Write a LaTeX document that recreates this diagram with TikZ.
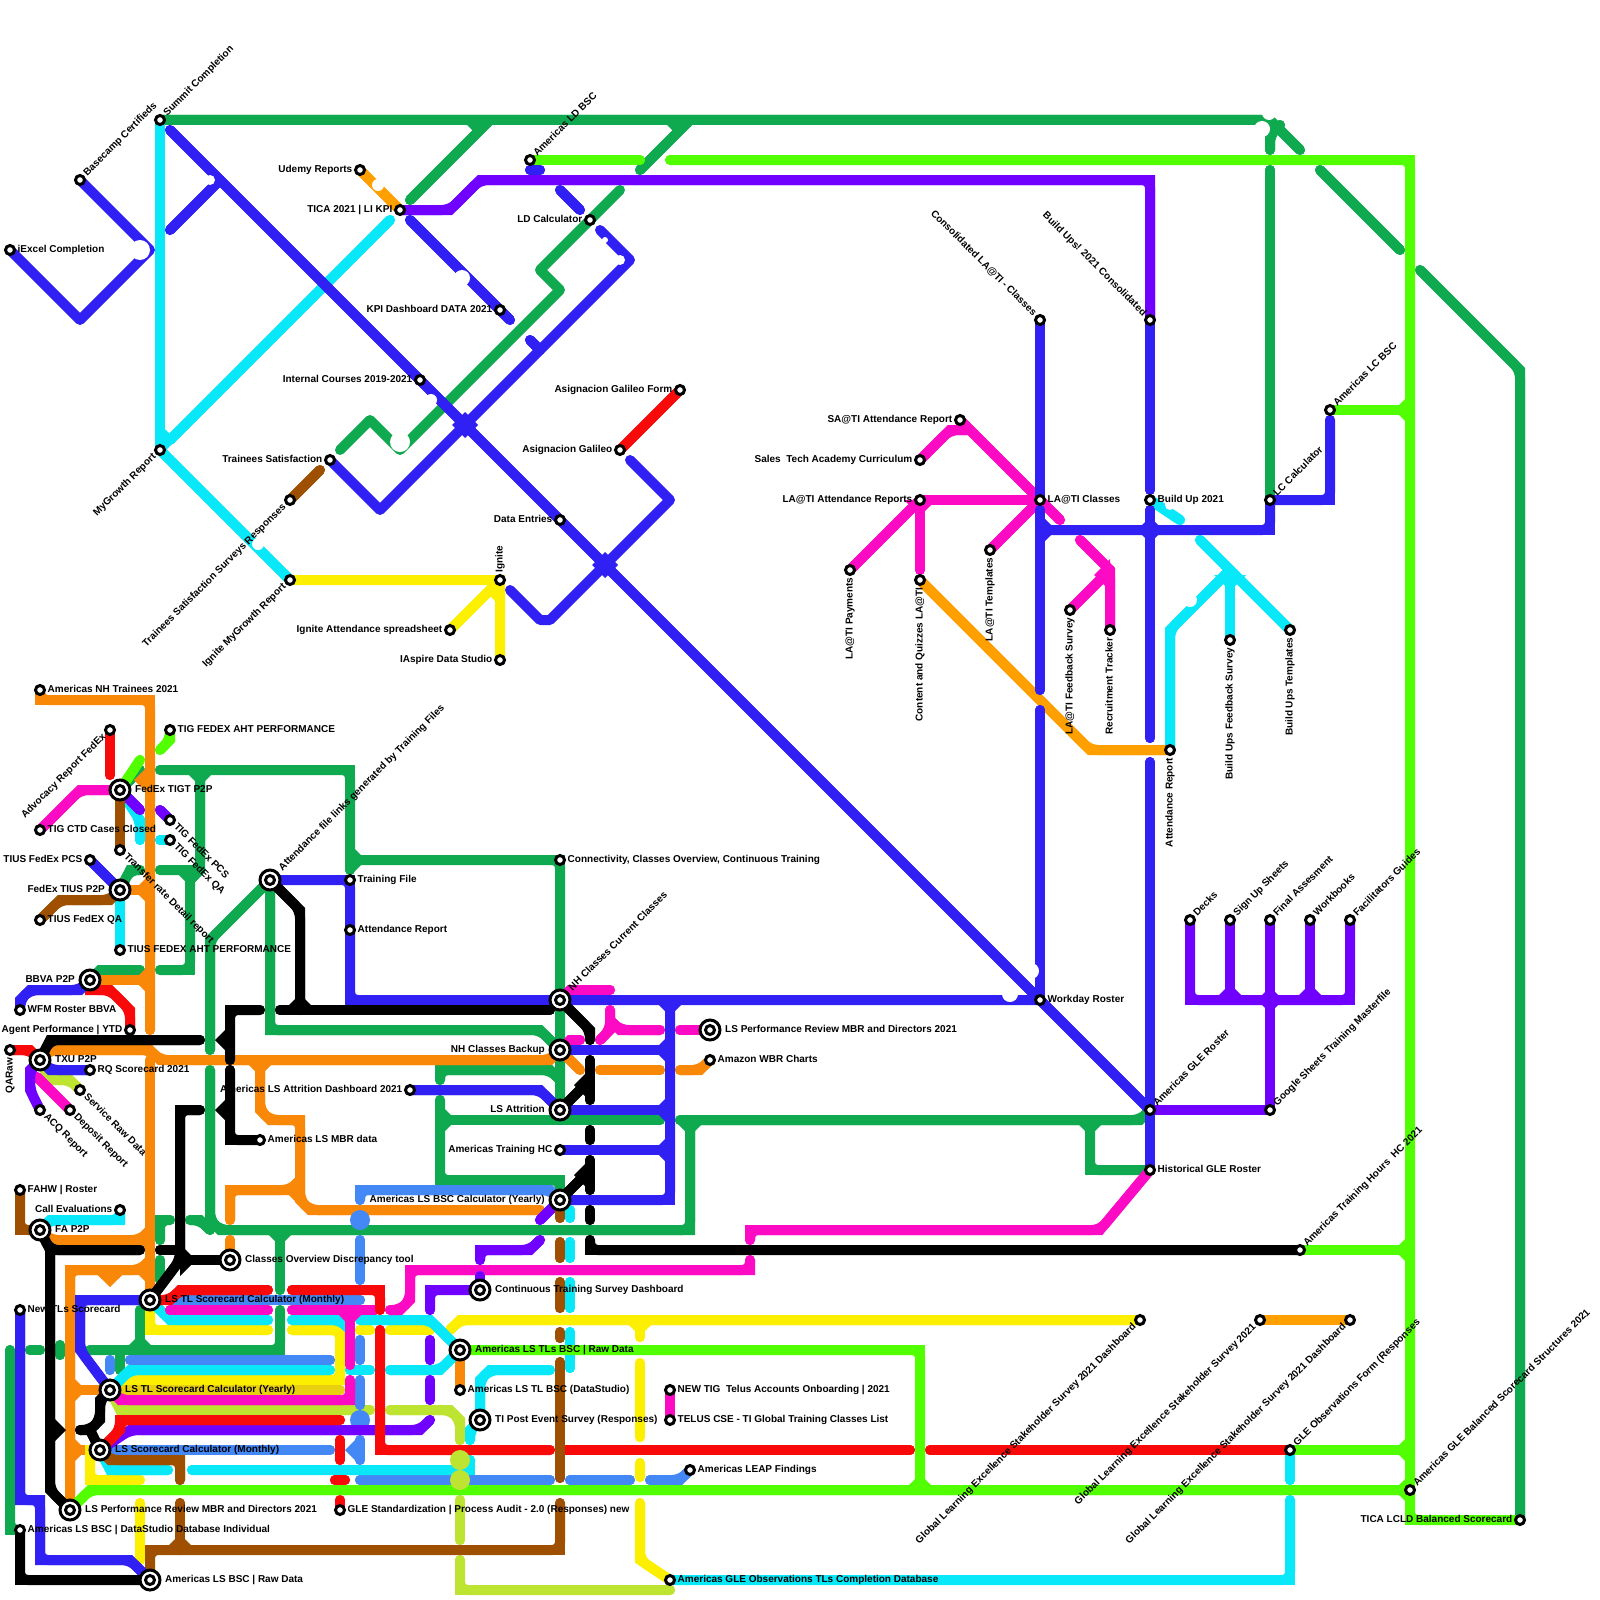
\documentclass[tikz,border=0pt]{standalone}
\usepackage{fontspec}
\setmainfont{Liberation Sans}
\pgfdeclarelayer{lines}
\pgfsetlayers{lines,main}
\definecolor{cB}{HTML}{3120F4}\definecolor{cG}{HTML}{0FA950}\definecolor{cL}{HTML}{52FF00}
\definecolor{cC}{HTML}{08E8F8}\definecolor{cM}{HTML}{FC0AC4}\definecolor{cO}{HTML}{F98808}
\definecolor{cA}{HTML}{FF9F00}\definecolor{cP}{HTML}{7000FF}\definecolor{cN}{HTML}{9E5000}
\definecolor{cR}{HTML}{F90A0A}\definecolor{cY}{HTML}{FCF000}\definecolor{cS}{HTML}{4488F5}
\definecolor{cV}{HTML}{BDE430}\definecolor{cD}{HTML}{E8CF10}\definecolor{cK}{HTML}{000000}
\tikzset{
 ln/.style={line width=10pt,line cap=round,line join=miter},
 smst/.style={circle,draw=black,fill=white,line width=3pt,minimum size=9pt,inner sep=0pt},
 bigst/.style={circle,draw=black,fill=white,line width=3pt,minimum size=20pt,inner sep=0pt},
 lbl/.style={font=\bfseries\fontsize{10}{12}\selectfont,text=black,text height=7.2pt,text depth=2pt},
 pE/.style={anchor=west},pW/.style={anchor=east},
 pNE/.style={anchor=west,rotate=45},pSW/.style={anchor=east,rotate=45},
 pSE/.style={anchor=west,rotate=-45},pNW/.style={anchor=east,rotate=-45},
 pS/.style={anchor=east,rotate=90},pN/.style={anchor=west,rotate=90},
}
\newcommand\sta[5]{\node[smst] (#1) at (#2,#3) {};\node[lbl,inner sep=7.5pt,#4] (#1-l) at (#2,#3) {#5};}
\newcommand\maj[5]{\node[bigst] (#1) at (#2,#3) {};\node[smst] (#1-i) at (#2,#3) {};\node[lbl,inner sep=15pt,#4] (#1-l) at (#2,#3) {#5};}
\newcommand\ml[2]{\draw[ln,#1] #2;\draw[ln,#1,rounded corners=8pt] #2;}
\newcommand\mv[2]{\draw[ln,line join=round,#1] #2;}
\newcommand\fl[5]{\fill[#1] ({#2+16*(#5)},{#3+16*(#4)}) -- ({#2-16*(#5)},{#3-16*(#4)}) -- ({#2+16*(#4)},{#3+16*(#5)}) -- cycle;}
\newcommand\hub[3]{\fill[#1] (#2-13,#3) -- (#2,#3-13) -- (#2+13,#3) -- (#2,#3+13) -- cycle;}
\newcommand\nt[3]{\fill[white] (#1,#2) circle (#3);}
\begin{document}
\begin{tikzpicture}[x=1pt,y=-1pt]
\useasboundingbox (0,0) rectangle (1600,1600);
% stations
\sta{iexcel}{10}{250}{pE}{iExcel Completion}
\sta{basecamp}{80}{180}{pNE}{Basecamp Certifieds}
\sta{summit}{160}{120}{pNE}{Summit Completion}
\sta{udemy}{360}{170}{pW}{Udemy Reports}
\sta{tica}{400}{210}{pW}{TICA 2021 | LI KPI}
\sta{kpi}{500}{310}{pW}{KPI Dashboard DATA 2021}
\sta{amld}{530}{160}{pNE}{Americas LD BSC}
\sta{ldcalc}{590}{220}{pW}{LD Calculator}
\sta{intc}{420}{380}{pW}{Internal Courses 2019-2021}
\sta{mygrowth}{160}{450}{pSW}{MyGrowth Report}
\sta{trsat}{330}{460}{pW}{Trainees Satisfaction}
\sta{tssr}{290}{500}{pSW}{Trainees Satisfaction Surveys Responses}
\sta{agf}{680}{390}{pW}{Asignacion Galileo Form}
\sta{ag}{620}{450}{pW}{Asignacion Galileo}
\sta{de}{560}{520}{pW}{Data Entries}
\sta{ign}{500}{580}{pN}{Ignite}
\sta{igmg}{290}{580}{pSW}{Ignite MyGrowth Report}
\sta{igatt}{450}{630}{pW}{Ignite Attendance spreadsheet}
\sta{iasp}{500}{660}{pW}{IAspire Data Studio}
\sta{consol}{1040}{320}{pNW}{Consolidated LA@TI - Classes}
\sta{bu}{1150}{320}{pNW}{Build Ups! 2021 Consolidated}
\sta{sa}{960}{420}{pW}{SA@TI Attendance Report}
\sta{sales}{920}{460}{pW}{Sales\ \ Tech Academy Curriculum}
\sta{laatt}{920}{500}{pW}{LA@TI Attendance Reports}
\sta{lacl}{1040}{500}{pE}{LA@TI Classes}
\sta{buone}{1150}{500}{pE}{Build Up 2021}
\sta{lc}{1270}{500}{pNE}{LC Calculator}
\sta{amlc}{1330}{410}{pNE}{Americas LC BSC}
\sta{lapay}{850}{570}{pS}{LA@TI Payments}
\sta{cq}{920}{580}{pS}{Content and Quizzes LA@TI}
\sta{latem}{990}{550}{pS}{LA@TI Templates}
\sta{lafb}{1070}{610}{pS}{LA@TI Feedback Survey}
\sta{rec}{1110}{630}{pS}{Recruitment Tracker}
\sta{attr}{1170}{750}{pS}{Attendance Report}
\sta{bufb}{1230}{640}{pS}{Build Ups Feedback Survey}
\sta{butm}{1290}{630}{pS}{Build Ups Templates}
\sta{decks}{1190}{920}{pNE}{Decks}
\sta{signup}{1230}{920}{pNE}{Sign Up Sheets}
\sta{final}{1270}{920}{pNE}{Final Assesment}
\sta{workb}{1310}{920}{pNE}{Workbooks}
\sta{facil}{1350}{920}{pNE}{Facilitators Guides}
\sta{google}{1270}{1110}{pNE}{Google Sheets Training Masterfile}
\sta{amgle}{1150}{1110}{pNE}{Americas GLE Roster}
\sta{workday}{1040}{1000}{pE}{Workday Roster}
\sta{hist}{1150}{1170}{pE}{Historical GLE Roster}
\sta{athh}{1300}{1250}{pNE}{Americas Training Hours\ \ HC 2021}
\sta{glsa}{1140}{1320}{pSW}{Global Learning Excellence Stakeholder Survey 2021 Dashboard}
\sta{glsb}{1260}{1320}{pSW}{Global Learning Excellence Stakeholder Survey 2021}
\sta{glsc}{1350}{1320}{pSW}{Global Learning Excellence Stakeholder Survey 2021 Dashboard}
\sta{gleo}{1290}{1450}{pNE}{GLE Observations Form (Responses}
\sta{glebal}{1410}{1490}{pNE}{Americas GLE Balanced Scorecard Structures 2021}
\sta{ticalc}{1520}{1520}{pW}{TICA LCLD Balanced Scorecard}
\sta{amglo}{670}{1580}{pE}{Americas GLE Observations TLs Completion Database}
\sta{leap}{690}{1470}{pE}{Americas LEAP Findings}
\sta{telus}{670}{1420}{pE}{TELUS CSE - TI Global Training Classes List}
\sta{newtig}{670}{1390}{pE}{NEW TIG\ \ Telus Accounts Onboarding | 2021}
\sta{wbr}{710}{1060}{pE}{Amazon WBR Charts}
\maj{lsperfb}{710}{1030}{pE}{LS Performance Review MBR and Directors 2021}
\sta{conn}{560}{860}{pE}{Connectivity, Classes Overview, Continuous Training}
\maj{nhcur}{560}{1000}{pNE}{NH Classes Current Classes}
\maj{nhb}{560}{1050}{pW}{NH Classes Backup}
\maj{lsatt}{560}{1110}{pW}{LS Attrition}
\sta{hc}{560}{1150}{pW}{Americas Training HC}
\maj{calc}{560}{1200}{pW}{Americas LS BSC Calculator (Yearly)}
\sta{dash}{410}{1090}{pW}{Americas LS Attrition Dashboard 2021}
\sta{mbr}{260}{1140}{pE}{Americas LS MBR data}
\sta{tf}{350}{880}{pE}{Training File}
\sta{arb}{350}{930}{pE}{Attendance Report}
\maj{afl}{270}{880}{pNE}{Attendance file links generated by Training Files}
\maj{cods}{230}{1260}{pE}{Classes Overview Discrepancy tool}
\maj{lstm}{150}{1300}{pE}{LS TL Scorecard Calculator (Monthly)}
\maj{cts}{480}{1290}{pE}{Continuous Training Survey Dashboard}
\maj{lsr}{460}{1350}{pE}{Americas LS TLs BSC | Raw Data}
\sta{dstud}{460}{1390}{pE}{Americas LS TL BSC (DataStudio)}
\maj{tipe}{480}{1420}{pE}{TI Post Event Survey (Responses)}
\sta{gles}{340}{1510}{pE}{GLE Standardization | Process Audit - 2.0 (Responses) new}
\maj{lsty}{110}{1390}{pE}{LS TL Scorecard Calculator (Yearly)}
\maj{lssm}{100}{1450}{pE}{LS Scorecard Calculator (Monthly)}
\maj{lspr}{70}{1510}{pE}{LS Performance Review MBR and Directors 2021}
\sta{bscd}{20}{1530}{pE}{Americas LS BSC | DataStudio Database Individual}
\maj{bscr}{150}{1580}{pE}{Americas LS BSC | Raw Data}
\sta{newtl}{20}{1310}{pE}{New TLs Scorecard}
\sta{fahw}{20}{1190}{pE}{FAHW | Roster}
\sta{call}{120}{1210}{pW}{Call Evaluations}
\maj{fa}{40}{1230}{pE}{FA P2P}
\maj{txu}{40}{1060}{pE}{TXU P2P}
\sta{qar}{10}{1050}{pS}{QARaw}
\sta{rq}{90}{1070}{pE}{RQ Scorecard 2021}
\sta{srv}{80}{1090}{pSE}{Service Raw Data}
\sta{dep}{70}{1110}{pSE}{Deposit Report}
\sta{acq}{40}{1110}{pSE}{ACQ Report}
\sta{agent}{130}{1030}{pW}{Agent Performance | YTD}
\sta{wfm}{20}{1010}{pE}{WFM Roster BBVA}
\maj{bbva}{90}{980}{pW}{BBVA P2P}
\sta{tiusa}{120}{950}{pE}{TIUS FEDEX AHT PERFORMANCE}
\sta{tiusq}{40}{920}{pE}{TIUS FedEX QA}
\maj{tius}{120}{890}{pW}{FedEx TIUS P2P}
\sta{tiusp}{90}{860}{pW}{TIUS FedEx PCS}
\sta{trans}{120}{850}{pSE}{Transfer rate Detail report}
\sta{qa}{170}{840}{pSE}{TIG FedEx QA}
\sta{pcs}{170}{820}{pSE}{TIG FedEx PCS}
\sta{ctd}{40}{830}{pE}{TIG CTD Cases Closed}
\maj{tigt}{120}{790}{pE}{FedEx TIGT P2P}
\sta{adv}{110}{730}{pSW}{Advocacy Report FedEx}
\sta{aht}{170}{730}{pE}{TIG FEDEX AHT PERFORMANCE}
\sta{nht}{40}{690}{pE}{Americas NH Trainees 2021}
\begin{pgfonlayer}{lines}
\fill[white] (0,0) rectangle (1600,1600);
% limey
\ml{cV}{(txu.center) -- (50,1080) -- (70,1080) -- (srv.center)}
\ml{cV}{(lsty.center) -- (120,1410) -- (370,1410)}
\ml{cV}{(390,1410) -- (450,1410) -- (460,1420) -- (460,1440)}
\ml{cV}{(460,1500) -- (460,1540)}
\ml{cV}{(460,1560) -- (460,1590) -- (670,1590)}
% green
\ml{cG}{(summit.center) -- (1270,120) -- (1300,150)}
\ml{cG}{(410,200) -- (490,120)}\fl{cG}{478}{120}{0}{1}
\ml{cG}{(640,170) -- (690,120)}\fl{cG}{678}{120}{0}{1}
\mv{cG}{(620,190) -- (540,270) -- (560,290) -- (400,450) -- (370,420) -- (340,450)}
\ml{cG}{(1320,170) -- (1400,250)}
\ml{cG}{(1420,270) -- (1520,370) -- (ticalc.center)}
\ml{cG}{(1270,170) -- (lc.center)}
\ml{cG}{(1270,150) -- (1270,135) -- (1280,125)}
\ml{cG}{(160,770) -- (350,770) -- (350,870)}\fl{cG}{200}{770}{0}{1}
\ml{cG}{(200,770) -- (200,870) -- (190,880)}
\ml{cG}{(350,860) -- (conn.center) -- (lsatt.center)}\fl{cG}{350}{860}{1}{0}
\ml{cG}{(160,870) -- (190,870) -- (190,970) -- (160,970)}\fl{cG}{190}{870}{0}{1}
\ml{cG}{(tius.center) -- (130,870) -- (140,870)}
\ml{cG}{(tigt.center) -- (140,770)}
\ml{cG}{(bbva.center) -- (100,970) -- (140,970)}
\ml{cG}{(210,1050) -- (210,940) -- (afl.center)}
\ml{cG}{(afl.center) -- (270,1030) -- (540,1030) -- (nhb.center)}
\ml{cG}{(210,1070) -- (210,1220) -- (220,1230) -- (690,1230) -- (690,1120)}
\ml{cG}{(190,1220) -- (200,1220) -- (210,1230)}
\ml{cG}{(680,1120) -- (1140,1120) -- (amgle.center)}\fl{cG}{690}{1120}{0}{1}
\ml{cG}{(1090,1120) -- (1090,1170) -- (hist.center)}\fl{cG}{1090}{1120}{0}{1}
\ml{cG}{(280,1240) -- (280,1290)}\fl{cG}{280}{1230}{0}{1}
\ml{cG}{(280,1310) -- (280,1350) -- (90,1350)}
\ml{cG}{(120,1350) -- (120,1370)}
\ml{cG}{(140,1310) -- (140,1350)}\fl{cG}{140}{1350}{0}{-1}
\ml{cG}{(160,1240) -- (160,1220) -- (170,1220)}
\ml{cG}{(160,1260) -- (160,1280)}
\ml{cG}{(10,1350) -- (10,1530) -- (bscd.center)}
\ml{cG}{(30,1350) -- (40,1350)}
\ml{cG}{(60,1345) -- (60,1355)}
\ml{cG}{(440,1080) -- (440,1070) -- (550,1070) -- (560,1080)}
\ml{cG}{(440,1100) -- (440,1180) -- (560,1180) -- (calc.center)}
\ml{cG}{(440,1120) -- (660,1120)}\fl{cG}{440}{1120}{1}{0}
% orange
\ml{cO}{(nht.center) -- (40,700) -- (150,700) -- (150,1030)}
\fl{cO}{150}{780}{-1}{0}\fl{cO}{150}{890}{-1}{0}\fl{cO}{150}{980}{-1}{0}
\ml{cO}{(tius.center) -- (150,890)}
\ml{cO}{(bbva.center) -- (150,980)}
\ml{cO}{(txu.center) -- (50,1050) -- (150,1050) -- (160,1060) -- (550,1060) -- (nhb.center)}
\ml{cO}{(nhb.center) -- (580,1070)}
\ml{cO}{(600,1070) -- (660,1070)}
\ml{cO}{(680,1070) -- (700,1070) -- (wbr.center)}
\ml{cO}{(150,1060) -- (lstm.center)}
\ml{cO}{(fa.center) -- (50,1240) -- (140,1240) -- (150,1230)}\fl{cO}{150}{1240}{-1}{0}
\ml{cO}{(150,1260) -- (140,1270) -- (70,1270) -- (lspr.center)}\fl{cO}{150}{1270}{-1}{0}
\ml{cO}{(100,1270) -- (110,1280) -- (120,1270)}
\ml{cO}{(70,1390) -- (lsty.center)}\fl{cO}{70}{1390}{1}{0}
\ml{cO}{(70,1450) -- (lssm.center)}\fl{cO}{70}{1450}{1}{0}
\ml{cO}{(260,1060) -- (260,1110) -- (270,1120) -- (300,1120) -- (300,1200) -- (310,1210) -- (540,1210)}\fl{cO}{260}{1060}{0}{1}
\ml{cO}{(300,1180) -- (290,1190) -- (230,1190) -- (230,1220)}\fl{cO}{300}{1190}{-1}{0}
\ml{cO}{(230,1240) -- (cods.center)}
\ml{cO}{(lsr.center) -- (dstud.center)}
% amber
\ml{cA}{(udemy.center) -- (tica.center)}
\ml{cA}{(glsb.center) -- (glsc.center)}
% light blue
\ml{cS}{(360,1200) -- (360,1190) -- (550,1190) -- (calc.center)}
\fill[cS] (360,1220) circle (10);
\ml{cS}{(360,1240) -- (360,1280)}
\ml{cS}{(lstm.center) -- (360,1300)}
\ml{cS}{(360,1340) -- (360,1360)}
\ml{cS}{(360,1380) -- (360,1405)}
\fill[cS] (360,1420) circle (10);
\fill[cS] (345,1450) -- (360,1435) -- (360,1465) -- cycle;
\ml{cS}{(360,1440) -- (360,1460)}
\ml{cS}{(lssm.center) -- (330,1450)}
\ml{cS}{(360,1480) -- (550,1480)}
\ml{cS}{(570,1480) -- (630,1480)}
\ml{cS}{(650,1480) -- (680,1480) -- (leap.center)}
\ml{cS}{(130,1360) -- (330,1360)}
\ml{cS}{(110,1360) -- (110,1370)}
% yellow
\ml{cY}{(igmg.center) -- (ign.center) -- (iasp.center)}
\ml{cY}{(igatt.center) -- (ign.center)}\fl{cY}{500}{590}{-1}{0}
\ml{cY}{(lstm.center) -- (150,1330) -- (268,1330)}
\ml{cY}{(292,1330) -- (340,1330) -- (340,1380) -- (130,1380) -- (lsty.center)}
\ml{cD}{(lsty.center) -- (340,1390)}
\ml{cY}{(360,1330) -- (370,1330)}
\ml{cY}{(390,1330) -- (430,1330)}
\ml{cY}{(450,1330) -- (460,1320) -- (glsa.center)}
\ml{cY}{(640,1320) -- (640,1337)}\fl{cY}{640}{1320}{0}{1}
\ml{cY}{(640,1363) -- (640,1437)}
\ml{cY}{(640,1463) -- (640,1477)}
\ml{cY}{(640,1503) -- (640,1560) -- (amglo.center)}
\ml{cY}{(lssm.center) -- (90,1450) -- (90,1480) -- (140,1480)}
\ml{cY}{(140,1503) -- (140,1560)}
% cyan
\ml{cC}{(summit.center) -- (mygrowth.center)}
\ml{cC}{(390,220) -- (170,440)}\fl{cC}{160}{440}{1}{0}
\ml{cC}{(mygrowth.center) -- (igmg.center)}
\ml{cC}{(buone.center) -- (1180,520)}
\ml{cC}{(1200,540) -- (butm.center)}
\ml{cC}{(1230,570) -- (1170,630) -- (attr.center)}
\ml{cC}{(1230,570) -- (bufb.center)}\fl{cC}{1230}{575}{0}{1}
\ml{cC}{(gleo.center) -- (1290,1480)}
\ml{cC}{(1290,1500) -- (1290,1580) -- (amglo.center)}
\ml{cC}{(tigt.center) -- (140,820) -- (140,840)}
\ml{cC}{(160,840) -- (qa.center)}
\ml{cC}{(tius.center) -- (tiusa.center)}
\ml{cC}{(fa.center) -- (50,1220) -- (120,1220) -- (call.center)}
\ml{cC}{(lstm.center) -- (170,1320) -- (268,1320)}
\ml{cC}{(292,1320) -- (340,1320) -- (350,1330)}
\ml{cC}{(360,1320) -- (430,1320) -- (lsr.center)}
\ml{cC}{(350,1370) -- (370,1370)}
\ml{cC}{(390,1370) -- (440,1370) -- (lsr.center)}
\ml{cC}{(lsty.center) -- (130,1370) -- (330,1370)}
\ml{cC}{(lssm.center) -- (110,1470) -- (168,1470)}
\ml{cC}{(192,1470) -- (470,1470) -- (470,1460)}
\ml{cC}{(470,1440) -- (470,1430) -- (tipe.center)}
\ml{cC}{(tipe.center) -- (480,1380) -- (490,1370) -- (550,1370)}
\ml{cC}{(570,1210) -- (570,1218)}
\ml{cC}{(570,1242) -- (570,1258)}
\ml{cC}{(570,1282) -- (570,1308)}
\ml{cC}{(570,1332) -- (570,1368)}
% magenta
\ml{cM}{(ctd.center) -- (80,790) -- (tigt.center)}
\ml{cM}{(sa.center) -- (1060,520)}
\ml{cM}{(sales.center) -- (950,430) -- (970,430)}
\ml{cM}{(laatt.center) -- (lacl.center)}\fl{cM}{1040}{500}{-1}{0}
\ml{cM}{(lapay.center) -- (laatt.center)}
\ml{cM}{(laatt.center) -- (920,570)}\fl{cM}{920}{500}{0}{1}
\ml{cM}{(latem.center) -- (lacl.center)}
\ml{cM}{(1080,540) -- (1110,570) -- (rec.center)}
\ml{cM}{(lafb.center) -- (1110,570)}\fl{cM}{1110}{575}{-1}{0}
\ml{cM}{(hist.center) -- (1100,1230) -- (750,1230) -- (750,1240)}
\ml{cM}{(750,1260) -- (750,1270) -- (410,1270) -- (410,1300) -- (400,1310) -- (390,1310)}
\ml{cM}{(170,1310) -- (268,1310)}
\ml{cM}{(292,1310) -- (375,1310)}
\ml{cM}{(350,1310) -- (350,1365)}\fl{cM}{350}{1310}{0}{1}
\ml{cM}{(350,1380) -- (350,1400) -- (120,1400) -- (lsty.center)}
\ml{cM}{(37,1077) -- (dep.center)}
\ml{cM}{(nhcur.center) -- (570,990) -- (610,990)}
\ml{cM}{(nhb.center) -- (570,1040) -- (580,1040)}
\ml{cM}{(600,1040) -- (610,1030) -- (610,1010)}
\ml{cM}{(610,1020) -- (620,1030) -- (660,1030)}
\ml{cM}{(680,1030) -- (lsperfb.center)}
\ml{cM}{(newtig.center) -- (telus.center)}
% purple
\ml{cP}{(tica.center) -- (450,210) -- (480,180) -- (1150,180) -- (bu.center)}
\ml{cP}{(tigt.center) -- (140,810)}
\ml{cP}{(160,810) -- (pcs.center)}
\ml{cP}{(txu.center) -- (30,1070) -- (30,1090) -- (acq.center)}
\ml{cP}{(decks.center) -- (1190,1000) -- (1350,1000) -- (facil.center)}
\ml{cP}{(signup.center) -- (1230,1000)}\fl{cP}{1230}{1000}{0}{-1}
\ml{cP}{(final.center) -- (google.center)}\hub{cP}{1270}{1000}
\ml{cP}{(workb.center) -- (1310,1000)}\fl{cP}{1310}{1000}{0}{-1}
\ml{cP}{(amgle.center) -- (1260,1110) -- (google.center)}
\ml{cP}{(lssm.center) -- (130,1430) -- (375,1430)}
\ml{cP}{(385,1430) -- (420,1430) -- (430,1420)}
\ml{cP}{(430,1340) -- (430,1360)}
\ml{cP}{(430,1380) -- (430,1400)}
\ml{cP}{(430,1310) -- (430,1290) -- (cts.center)}
\ml{cP}{(480,1260) -- (480,1250) -- (530,1250) -- (540,1240)}
\ml{cP}{(540,1220) -- (calc.center)}
\ml{cP}{(cts.center) -- (480,1276)}
% red
\ml{cR}{(adv.center) -- (110,775)}
\ml{cR}{(bbva.center) -- (90,990) -- (110,990) -- (130,1010) -- (agent.center)}
\ml{cR}{(qar.center) -- (30,1050) -- (txu.center)}
\ml{cR}{(agf.center) -- (ag.center)}
\ml{cR}{(lstm.center) -- (170,1300) -- (180,1290) -- (268,1290)}
\ml{cR}{(292,1290) -- (380,1290) -- (380,1310)}
\ml{cR}{(380,1330) -- (380,1450) -- (550,1450)}
\ml{cR}{(565,1450) -- (910,1450)}
\ml{cR}{(930,1450) -- (gleo.center)}
\ml{cR}{(lssm.center) -- (120,1430) -- (120,1420) -- (340,1420)}
\ml{cR}{(340,1440) -- (340,1460)}
\ml{cR}{(335,1480) -- (345,1480)}
\ml{cR}{(340,1500) -- (gles.center)}
% brown
\ml{cN}{(tssr.center) -- (320,470)}
\ml{cN}{(tigt.center) -- (trans.center)}
\ml{cN}{(tiusq.center) -- (60,900) -- (110,900) -- (tius.center)}
\ml{cN}{(fahw.center) -- (20,1230) -- (fa.center)}
\ml{cN}{(lssm.center) -- (110,1460) -- (180,1460) -- (180,1480)}
\ml{cN}{(180,1503) -- (180,1550)}\fl{cN}{180}{1550}{0}{-1}
\ml{cN}{(bscr.center) -- (150,1550) -- (560,1550) -- (560,1503)}
\ml{cN}{(calc.center) -- (560,1218)}
\ml{cN}{(560,1242) -- (560,1258)}
\ml{cN}{(560,1282) -- (560,1308)}
\ml{cN}{(560,1332) -- (560,1338)}
\ml{cN}{(560,1362) -- (560,1478)}
% lime
\ml{cL}{(amld.center) -- (640,160)}
\ml{cL}{(670,160) -- (1410,160) -- (1410,1520) -- (ticalc.center)}
\ml{cL}{(amlc.center) -- (1410,410)}\fl{cL}{1410}{410}{-1}{0}
\ml{cL}{(athh.center) -- (1410,1250)}\fl{cL}{1410}{1250}{-1}{0}
\ml{cL}{(gleo.center) -- (1410,1450)}\fl{cL}{1410}{1450}{-1}{0}
\ml{cL}{(lspr.center) -- (90,1490) -- (glebal.center)}\fl{cL}{1410}{1490}{-1}{0}
\ml{cL}{(lsr.center) -- (920,1350) -- (920,1490)}\fl{cL}{920}{1490}{0}{-1}
\ml{cL}{(tigt.center) -- (140,760)}
\ml{cL}{(aht.center) -- (170,740) -- (160,750)}
\fill[cV] (460,1460) circle (10);\fill[cV] (460,1480) circle (10);
% amber over lines
\ml{cA}{(cq.center) -- (1090,750) -- (attr.center)}
% blue
\mv{cB}{(iexcel.center) -- (80,320) -- (150,250) -- (basecamp.center)}
\ml{cB}{(170,130) -- (workday.center) -- (amgle.center)}
\ml{cB}{(170,230) -- (220,180)}
\ml{cB}{(410,220) -- (kpi.center) -- (510,320)}
\ml{cB}{(530,170) -- (540,170)}
\ml{cB}{(560,190) -- (580,210)}
\mv{cB}{(trsat.center) -- (380,510) -- (630,260) -- (600,230)}
\ml{cB}{(530,340) -- (540,350)}
\mv{cB}{(510,590) -- (540,620) -- (550,620) -- (670,500) -- (630,460)}
\hub{cB}{465}{425}\hub{cB}{605}{565}\hub{cB}{1150}{530}
\ml{cB}{(consol.center) -- (lacl.center)}
\ml{cB}{(1040,510) -- (1040,690)}
\ml{cB}{(1040,710) -- (workday.center)}
\ml{cB}{(bu.center) -- (1150,490)}
\ml{cB}{(1150,510) -- (1150,738)}
\ml{cB}{(1150,762) -- (amgle.center)}
\ml{cB}{(1040,530) -- (1270,530) -- (lc.center)}\fl{cB}{1040}{530}{1}{0}
\ml{cB}{(lc.center) -- (1330,500) -- (1330,420)}
\ml{cB}{(afl.center) -- (tf.center) -- (350,1000) -- (workday.center)}
\ml{cB}{(670,1000) -- (670,1200) -- (calc.center)}\fl{cB}{670}{1000}{0}{1}
\ml{cB}{(nhb.center) -- (670,1050)}\fl{cB}{670}{1050}{-1}{0}
\ml{cB}{(lsatt.center) -- (670,1110)}\fl{cB}{670}{1110}{-1}{0}
\ml{cB}{(hc.center) -- (670,1150)}\fl{cB}{670}{1150}{-1}{0}
\ml{cB}{(dash.center) -- (540,1090) -- (lsatt.center)}
\ml{cB}{(amgle.center) -- (hist.center)}
\ml{cB}{(tiusp.center) -- (tius.center)}
\ml{cB}{(wfm.center) -- (20,1000) -- (30,990) -- (80,990) -- (bbva.center)}
\ml{cB}{(txu.center) -- (50,1070) -- (rq.center)}
\ml{cB}{(newtl.center) -- (20,1500) -- (40,1500) -- (40,1560) -- (130,1560) -- (bscr.center)}
\ml{cB}{(lstm.center) -- (80,1300) -- (80,1350) -- (lsty.center)}
% black
\ml{cK}{(txu.center) -- (50,1040) -- (200,1040)}
\ml{cK}{(280,1010) -- (550,1010)}
\ml{cK}{(afl.center) -- (300,910) -- (300,1010)}\fl{cK}{300}{1010}{0}{-1}
\ml{cK}{(260,1010) -- (230,1010) -- (230,1060)}
\fill[cK] (215,1040) -- (230,1025) -- (230,1055) -- cycle;
\ml{cK}{(230,1070) -- (230,1140) -- (mbr.center)}
\fill[cK] (215,1110) -- (230,1095) -- (230,1125) -- cycle;
\ml{cK}{(200,1110) -- (180,1110) -- (180,1260) -- (lstm.center)}
\ml{cK}{(180,1260) -- (cods.center)}
\ml{cK}{(160,1250) -- (180,1250)}\fl{cK}{180}{1260}{1}{0}
\ml{cK}{(fa.center) -- (50,1250) -- (140,1250)}
\ml{cK}{(50,1250) -- (50,1490) -- (lspr.center)}\fl{cK}{50}{1430}{1}{0}
\ml{cK}{(lsty.center) -- (100,1400) -- (100,1420) -- (90,1430) -- (80,1430)}
\ml{cK}{(90,1430) -- (lssm.center)}
\ml{cK}{(bscd.center) -- (20,1580) -- (bscr.center)}
\ml{cK}{(nhcur.center) -- (590,1030) -- (590,1040)}
\ml{cK}{(590,1060) -- (590,1100)}
\ml{cK}{(lsatt.center) -- (590,1080)}\fl{cK}{590}{1085}{-1}{0}
\ml{cK}{(590,1130) -- (590,1140)}
\ml{cK}{(590,1160) -- (590,1190)}
\ml{cK}{(calc.center) -- (590,1170)}\fl{cK}{590}{1175}{-1}{0}
\ml{cK}{(590,1210) -- (590,1220)}
\ml{cK}{(590,1240) -- (590,1250) -- (athh.center)}
% notches
\nt{140}{250}{10}\nt{210}{180}{5}\nt{378}{185}{6}\nt{462}{278}{8}\nt{431}{400}{6}
\nt{400}{442}{10}\nt{258}{544}{6}\nt{1262}{129}{8}\nt{1269}{113}{7}\nt{1170}{505}{5}
\nt{1190}{600}{7}\nt{605}{240}{3}\nt{620}{260}{5}\nt{1031}{971}{8}\nt{1010}{994}{8}
\end{pgfonlayer}
\end{tikzpicture}
\end{document}
